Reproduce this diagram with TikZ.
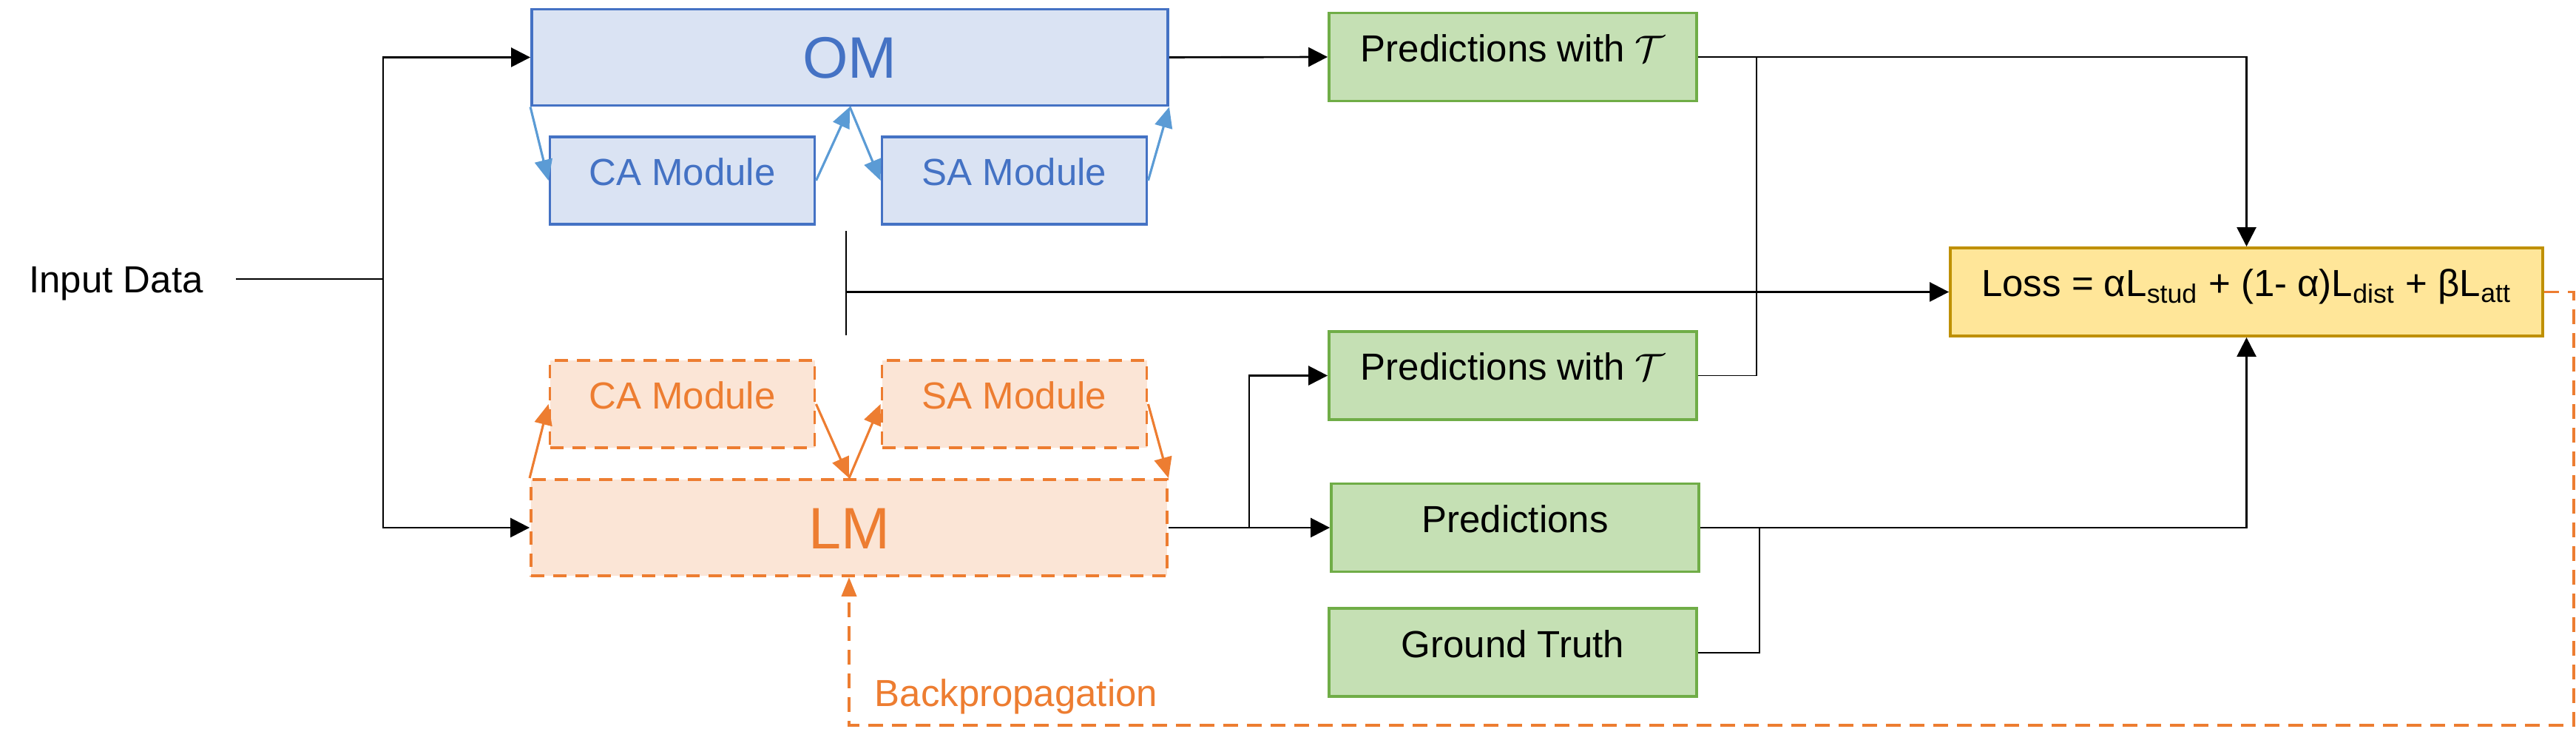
\documentclass[tikz,border=0pt]{standalone}
\usepackage{fontspec}
\setmainfont{Liberation Sans}
\usetikzlibrary{arrows.meta, positioning, calc}
\definecolor{omblue}{RGB}{68,114,196}
\definecolor{omfill}{RGB}{218,227,243}
\definecolor{linkblue}{RGB}{91,155,213}
\definecolor{lmorange}{RGB}{237,125,49}
\definecolor{lmfill}{RGB}{251,229,214}
\definecolor{predgreen}{RGB}{112,173,71}
\definecolor{predfill}{RGB}{197,224,180}
\definecolor{lossgold}{RGB}{191,144,0}
\definecolor{lossfill}{RGB}{255,230,153}

\begin{document}
\begin{tikzpicture}[
        font=\fontsize{14.5}{17}\selectfont,
        box/.style={rectangle, line width=1.1pt, inner sep=0pt, align=center, minimum height=1.19cm, text height=0.37cm, text depth=0.24cm},
        omstyle/.style={box, draw=omblue, fill=omfill, text=omblue},
        lmstyle/.style={box, draw=lmorange, fill=lmfill, text=lmorange, dash pattern=on 0.18cm off 0.12cm},
        bigtext/.style={minimum width=8.6cm, minimum height=1.3cm, text height=0.57cm, text depth=0cm, font=\fontsize{22.5}{26}\selectfont},
        modbox/.style={minimum width=3.58cm, minimum height=1.18cm},
        predbox/.style={box, draw=predgreen, fill=predfill, minimum width=4.97cm, minimum height=1.19cm},
        lossbox/.style={box, draw=lossgold, fill=lossfill, minimum width=8.01cm, minimum height=1.19cm},
        arrow/.style={-{Triangle[length=0.26cm, width=0.26cm]}, line width=0.75pt},
        plainline/.style={line width=0.75pt},
        thinline/.style={line width=0.4pt},
        bluearrow/.style={-{Triangle[length=0.28cm, width=0.24cm]}, line width=0.9pt, linkblue},
        orangearrow/.style={-{Triangle[length=0.28cm, width=0.24cm]}, line width=0.9pt, lmorange},
        backarrow/.style={-{Triangle[length=0.26cm, width=0.2cm]}, line width=1.1pt, lmorange, dash pattern=on 0.2cm off 0.12cm}
    ]
        \useasboundingbox (0,0) rectangle (34.83,10.08);

        \node[inner xsep=0.44cm, inner ysep=0pt, text height=0.37cm, text depth=0cm] (input) at (1.57,6.31) {Input Data};

        \node[omstyle, bigtext] (om) at (11.49,9.305) {OM};
        \node[omstyle, modbox] (cab) at (9.225,7.64) {CA Module};
        \node[omstyle, modbox] (sab) at (13.715,7.64) {SA Module};

        \node[lmstyle, modbox] (cao) at (9.225,4.62) {CA Module};
        \node[lmstyle, modbox] (sao) at (13.715,4.62) {SA Module};
        \node[lmstyle, bigtext] (lm) at (11.48,2.95) {LM};

        \node[predbox] (pt1) at (20.455,9.31) {Predictions with $\mathcal{T}$};
        \node[predbox] (pt2) at (20.455,5.005) {Predictions with $\mathcal{T}$};
        \node[predbox] (pred) at (20.485,2.95) {Predictions};
        \node[predbox, below=0.46cm of pred.south west, anchor=north west, xshift=-0.03cm] (gt) {Ground Truth};

        \node[lossbox] (loss) at (30.375,6.135) {Loss = αL\textsubscript{stud} + (1- α)L\textsubscript{dist} + βL\textsubscript{att}};

        \node[anchor=west, text=lmorange, inner sep=0pt] (bplabel) at (11.82,0.67) {Backpropagation};

        \coordinate (split) at (5.18,6.31);
        \coordinate (atttop) at (11.44,6.96);
        \coordinate (attbot) at (11.44,5.55);
        \coordinate (attmid) at (11.44,6.135);
        \coordinate (lmsplit) at (16.89,2.95);
        \coordinate (tjoin) at (23.75,9.31);
        \coordinate (gjoin) at (23.79,2.95);
        \coordinate (bpcorner) at (34.80,0.28);

        \draw[plainline] (input.east) -- (split);
        \draw[arrow] (split) |- (om.west);
        \draw[arrow] (split) |- (lm.west);

        \draw[bluearrow] (om.south west) -- (cab.west);
        \draw[bluearrow] (cab.east) -- (om.south);
        \draw[bluearrow] (om.south) -- (sab.west);
        \draw[bluearrow] (sab.east) -- (om.south east);

        \draw[orangearrow] (lm.north west) -- (cao.west);
        \draw[orangearrow] (cao.east) -- (lm.north);
        \draw[orangearrow] (lm.north) -- (sao.west);
        \draw[orangearrow] (sao.east) -- (lm.north east);

        \draw[arrow] (om.east) -- (pt1.west);
        \draw[arrow] (lm.east) -- (pred.west);
        \draw[arrow] (lmsplit) |- (pt2.west);

        \draw[thinline] (atttop) -- (attbot);
        \draw[arrow] (attmid) -- (loss.west);

        \draw[arrow] (pt1.east) -| (loss.north);
        \draw[thinline] (pt2.east) -| (tjoin);
        \draw[arrow] (pred.east) -| (loss.south);
        \draw[thinline] (gt.east) -| (gjoin);

        \draw[backarrow] (loss.east) -| (bpcorner) -| (lm.south);
    \end{tikzpicture}
\end{document}
